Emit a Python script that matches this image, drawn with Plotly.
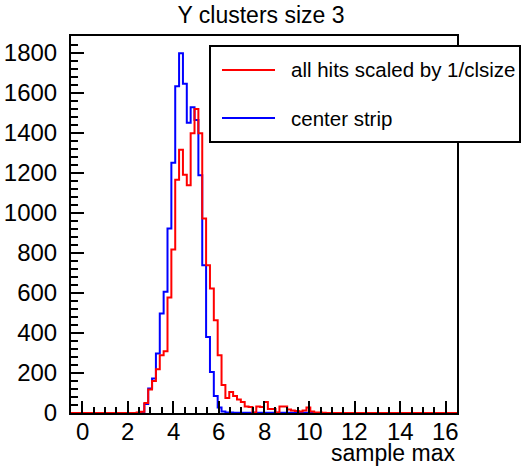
import numpy as np
import plotly.graph_objects as go

# Histogram definition: 100 bins from -0.5 to 16.5
n_bins = 100
x_min, x_max = -0.5, 16.5

# bin contents (index 0..99)
center_strip = [0]*18 + [5, 45, 122, 172, 297, 497, 605, 922, 1250, 1632,
                        1797, 1645, 1450, 1527, 1463, 1188, 738, 380, 205, 85,
                        28, 8, 3, 2] + [1]*20 + [0]*38
all_hits = [0]*17 + [2, 6, 50, 117, 160, 218, 288, 308, 577, 817,
                     1165, 1315, 1190, 1138, 1397, 1518, 1397, 972, 738, 622,
                     463, 288, 140, 75, 105, 85, 68, 55, 32, 30,
                     3, 33, 30, 55, 20, 20, 3, 33, 33, 17,
                     12, 10, 8, 12, 27, 8, 3, 2, 1] + [0]*34

x_ticks = list(range(0, 17, 2))
y_ticks = list(range(0, 1801, 200))

legend_labels = ["all hits scaled by 1/clsize", "center strip"]
title_text = "Y clusters size 3"
x_title = "sample max"

edges = np.linspace(x_min, x_max, n_bins + 1)

def step_y(vals):
    return list(vals) + [vals[-1]]

FONT = "Liberation Sans, Arial, Helvetica, sans-serif"

fig = go.Figure()
fig.add_trace(go.Scatter(x=edges, y=step_y(center_strip), mode="lines",
                         line=dict(color="#0000ff", width=2, shape="hv"),
                         showlegend=False, name=legend_labels[1]))
fig.add_trace(go.Scatter(x=edges, y=step_y(all_hits), mode="lines",
                         line=dict(color="#ff0000", width=2, shape="hv"),
                         showlegend=False, name=legend_labels[0]))

W, H = 522, 466
L, R, T, B = 71, 65, 36, 53
pw, ph = W - L - R, H - T - B

def px(xp):
    return (xp - L) / pw

def py(yp):
    return (H - B - yp) / ph

# legend box (ROOT-style)
fig.add_shape(type="rect", xref="paper", yref="paper",
              x0=px(210), x1=px(520), y0=py(142), y1=py(46),
              line=dict(color="black", width=2), fillcolor="white", layer="above")
for yy, col, lab in [(70, "#ff0000", legend_labels[0]), (118, "#0000ff", legend_labels[1])]:
    fig.add_shape(type="line", xref="paper", yref="paper",
                  x0=px(222), x1=px(275), y0=py(yy), y1=py(yy),
                  line=dict(color=col, width=2), layer="above")
    fig.add_annotation(xref="paper", yref="paper", x=px(289), y=py(yy),
                       xanchor="left", yanchor="middle", text=lab, showarrow=False,
                       font=dict(family=FONT, size=20.5, color="black"))

# x tick labels (placed close under the axis, ROOT-style)
for v in x_ticks:
    fig.add_annotation(xref="x", yref="paper", x=v, y=py(431),
                       xanchor="center", yanchor="middle", text=str(v), showarrow=False,
                       font=dict(family=FONT, size=24, color="black"))

fig.add_annotation(xref="paper", yref="paper", x=1, y=py(453),
                   xanchor="right", yanchor="middle", text=x_title, showarrow=False,
                   font=dict(family=FONT, size=23, color="black"))

fig.update_layout(
    width=W, height=H,
    margin=dict(l=L, r=R, t=T, b=B, autoexpand=False),
    paper_bgcolor="white", plot_bgcolor="white",
    font=dict(family=FONT, size=24, color="black"),
    title=dict(text=title_text, x=px(264), xanchor="center",
               y=1 - 15 / H, yanchor="middle",
               font=dict(family=FONT, size=23, color="black")),
    showlegend=False,
)
fig.update_xaxes(range=[x_min, x_max], showgrid=False, zeroline=False, automargin=False,
                 showline=True, linecolor="black", linewidth=2, mirror=True,
                 tickmode="array", tickvals=x_ticks, showticklabels=False,
                 ticks="inside", ticklen=12, tickwidth=2, tickcolor="black",
                 minor=dict(ticks="inside", ticklen=6, tickwidth=2, tickcolor="black", dtick=0.5, tick0=0))
fig.update_yaxes(range=[0, 1883], showgrid=False, zeroline=False, automargin=False,
                 showline=True, linecolor="black", linewidth=2, mirror=True,
                 tickmode="array", tickvals=y_ticks, ticktext=[str(v) for v in y_ticks],
                 ticks="inside", ticklen=13, tickwidth=2, tickcolor="black",
                 minor=dict(ticks="inside", ticklen=7, tickwidth=2, tickcolor="black", dtick=40, tick0=0),
                 ticklabelstandoff=7)

fig.write_html("out.html")
